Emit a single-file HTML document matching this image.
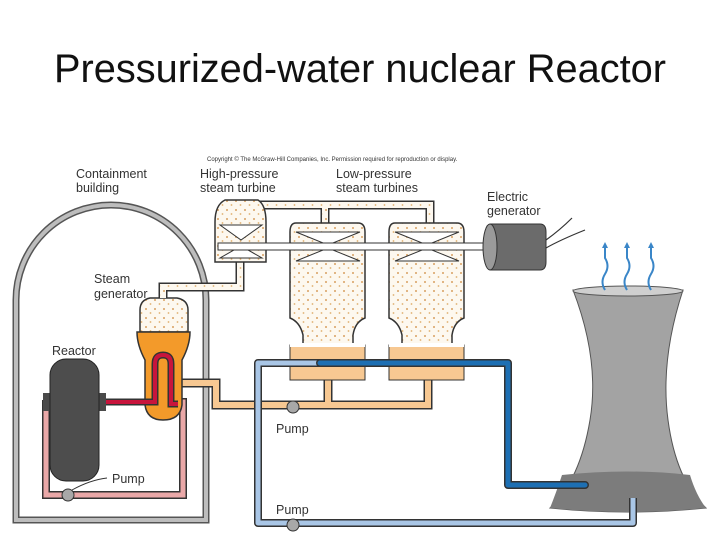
<!DOCTYPE html>
<html><head><meta charset="utf-8"><style>
html,body{margin:0;padding:0;background:#fff;width:720px;height:540px;overflow:hidden}
svg{display:block}
text{font-family:"Liberation Sans",sans-serif;fill:#333}
</style></head><body>
<svg width="720" height="540" viewBox="0 0 720 540" xmlns="http://www.w3.org/2000/svg">
<defs>
<pattern id="dots" width="9" height="9" patternUnits="userSpaceOnUse">
<rect width="9" height="9" fill="#fdf8ef"/>
<circle cx="2" cy="3" r="1" fill="#d9a060"/><circle cx="6.5" cy="7" r="0.9" fill="#e0b070"/>
</pattern>
</defs>
<text x="360" y="82" font-size="40" text-anchor="middle" textLength="612" lengthAdjust="spacingAndGlyphs" style="font-family:'Liberation Sans',sans-serif;fill:#111">Pressurized-water nuclear Reactor</text>
<text x="207" y="161" font-size="6" fill="#444">Copyright © The McGraw-Hill Companies, Inc. Permission required for reproduction or display.</text>
<g font-size="12.5">
<text x="76" y="178">Containment</text><text x="76" y="192">building</text>
<text x="200" y="178">High-pressure</text><text x="200" y="192">steam turbine</text>
<text x="336" y="178">Low-pressure</text><text x="336" y="192">steam turbines</text>
<text x="487" y="201">Electric</text><text x="487" y="215">generator</text>
<text x="94" y="283">Steam</text><text x="94" y="298">generator</text>
<text x="52" y="355">Reactor</text>
<text x="112" y="483">Pump</text>
<text x="276" y="433">Pump</text>
<text x="276" y="514">Pump</text>
<text x="608" y="393" font-size="13">Cooling</text><text x="608" y="408" font-size="13">tower</text>
</g>
<!-- containment -->
<path d="M16 520 V300 A95 95 0 0 1 206 300 V520 Z" fill="none" stroke="#555" stroke-width="7"/>
<path d="M16 520 V300 A95 95 0 0 1 206 300 V520 Z" fill="none" stroke="#bdbdbd" stroke-width="4"/>
<!-- cooling tower -->
<path d="M573 290 Q600 360 590 420 Q580 480 550 508 Q628 516 706 508 Q676 480 668 420 Q660 360 683 290 Z" fill="#a3a3a3" stroke="#555" stroke-width="1"/>
<path d="M562 475 Q628 468 690 475 Q696 495 706 508 Q628 516 550 508 Q556 493 562 475 Z" fill="#7c7c7c"/>
<ellipse cx="628" cy="291" rx="55" ry="5" fill="#cfcfcf" stroke="#555" stroke-width="1"/>
<g fill="none" stroke="#3a86c8" stroke-width="2">
<path d="M605 290 q-5 -8 0 -16 q5 -8 0 -16 v-10"/><path d="M627 290 q-5 -8 0 -16 q5 -8 0 -16 v-10"/><path d="M651 290 q-5 -8 0 -16 q5 -8 0 -16 v-10"/>
</g>
<g fill="#3a86c8"><path d="M605 242 l-3 6 h6z"/><path d="M627 242 l-3 6 h6z"/><path d="M651 242 l-3 6 h6z"/></g>
<!-- orange condensate pipe -->
<path d="M182 383 H216 V405 H428 V378 M328 378 V405" fill="none" stroke="#333" stroke-width="9"/>
<path d="M182 383 H216 V405 H428 V378 M328 378 V405" fill="none" stroke="#f7c892" stroke-width="6"/>
<!-- pink primary loop -->
<path d="M46 400 V495 H183 V402 H170" fill="none" stroke="#333" stroke-width="8"/>
<path d="M46 400 V495 H183 V402 H170" fill="none" stroke="#eaa8a8" stroke-width="5"/>
<!-- steam generator -->
<path d="M140 310 Q140 300 150 298 H177 Q188 300 188 310 V332 H140 Z" fill="url(#dots)" stroke="#333" stroke-width="1.5"/>
<path d="M137 332 H190 Q190 345 182 360 V405 Q180 420 163 420 Q147 420 145 405 V360 Q137 345 137 332 Z" fill="#f39a2a" stroke="#333" stroke-width="1.5"/>
<path d="M100 402 H155 V364 Q155 355 163 355 Q171 355 171 364 V404 H178" fill="none" stroke="#333" stroke-width="7"/>
<path d="M100 402 H155 V364 Q155 355 163 355 Q171 355 171 364 V404 H178" fill="none" stroke="#c8143c" stroke-width="4"/>
<!-- reactor -->
<rect x="43" y="393" width="10" height="18" fill="#4a4a4a"/><rect x="97" y="393" width="9" height="18" fill="#4a4a4a"/>
<rect x="50" y="359" width="49" height="122" rx="16" fill="#4d4d4d" stroke="#222"/>
<!-- steam pipes -->
<path d="M163 298 V287 H240 V255 M235 205 H430 V223 M325 205 V223" fill="none" stroke="#333" stroke-width="9"/>
<path d="M163 298 V287 H240 V255 M235 205 H430 V223 M325 205 V223" fill="none" stroke="url(#dots)" stroke-width="6"/>
<!-- HP turbine -->
<path d="M225 200 H258 Q266 205 266 222 V262 H215 V222 Q215 205 225 200 Z" fill="url(#dots)" stroke="#333" stroke-width="1.5"/>
<path d="M220 225 L262 225 L241 240 Z M220 258 L262 258 L241 246 Z" fill="#fff" stroke="#333"/>
<!-- LP turbines -->
<g id="lp">
<path d="M296 223 H358 Q365 223 365 232 V318 Q355 322 353 335 V347 H303 V335 Q300 322 290 318 V232 Q290 223 296 223 Z" fill="url(#dots)" stroke="#333" stroke-width="1.5"/>
<path d="M296 232 L360 232 L328 245 Z M296 261 L360 261 L328 248 Z" fill="#fff" stroke="#333"/>
<rect x="290" y="345" width="75" height="35" fill="#f7c892" stroke="#333" stroke-width="1"/>
<rect x="290" y="343" width="75" height="4" fill="#fff"/>
</g>
<use href="#lp" transform="translate(99,0)"/>
<!-- blue loop (over hotwells and tower) -->
<path d="M320 363 H258 V523 H633 V498" fill="none" stroke="#333" stroke-width="8" stroke-linejoin="round"/>
<path d="M320 363 H258 V523 H633 V498" fill="none" stroke="#a9c6e6" stroke-width="5" stroke-linejoin="round"/>
<path d="M320 363 H508 V485 H585" fill="none" stroke="#333" stroke-width="8" stroke-linecap="round" stroke-linejoin="round"/>
<path d="M320 363 H508 V485 H585" fill="none" stroke="#1d6fb3" stroke-width="5" stroke-linecap="round" stroke-linejoin="round"/>
<!-- shaft -->
<rect x="218" y="243" width="270" height="7" fill="#fff" stroke="#333"/>
<!-- generator -->
<path d="M490 224 H540 Q546 224 546 232 V262 Q546 270 540 270 H490 Z" fill="#6b6b6b" stroke="#333"/>
<ellipse cx="490" cy="247" rx="7" ry="23" fill="#9a9a9a" stroke="#333"/>
<path d="M546 240 Q560 230 572 218 M546 248 Q560 240 585 230" fill="none" stroke="#333" stroke-width="1.2"/>
<!-- pumps -->
<g fill="#a8a8a8" stroke="#333">
<circle cx="68" cy="495" r="6"/><circle cx="293" cy="407" r="6"/><circle cx="293" cy="525" r="6"/>
</g>
<path d="M107 478 Q90 480 72 490" fill="none" stroke="#333"/>
</svg>
</body></html>
